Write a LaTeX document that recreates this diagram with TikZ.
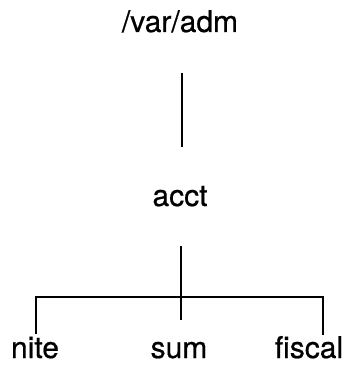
\documentclass[tikz,border=0pt]{standalone}
\usepackage{fontspec}
\setmainfont{TeX Gyre Heros}
\newfontfamily\treefont[FakeBold=0.6]{TeX Gyre Heros}
\begin{document}
\begin{tikzpicture}[x=1pt,y=-1pt,
  dirname/.style={anchor=base,inner sep=0pt,font=\treefont\fontsize{30}{32}\selectfont},
  branch/.style={line width=1.8pt}]
\useasboundingbox (0,0) rectangle (358,382);
% directory names
\node[dirname] (adm) at (180,32) {/var/adm};
\node[dirname] (acct) at (180,206) {acct};
\node[dirname] (nite) at (35,358) {nite};
\node[dirname] (sum) at (179,358) {sum};
\node[dirname] (fiscal) at (309,358) {fiscal};
% tree connectors
\coordinate (t1) at (182,73);
\coordinate (b1) at (182,147);
\coordinate (t2) at (181,246);
\coordinate (b2) at (181,320);
\coordinate (hl) at (36,297);
\coordinate (hr) at (323,297);
\coordinate (nl) at (36,334);
\coordinate (nr) at (323,335);
\draw[branch] (t1) -- (b1);
\draw[branch] (t2) -- (b2);
\draw[branch] (nl) -- (hl) -- (hr) -- (nr);
\end{tikzpicture}
\end{document}
